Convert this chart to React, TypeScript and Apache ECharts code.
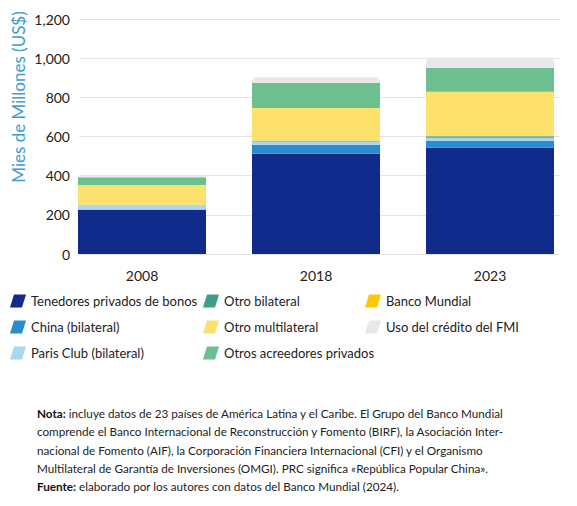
import React, { useEffect, useRef } from "react";
import * as echarts from "echarts";

const years = ["2008", "2018", "2023"];

const bonos = [225, 512, 543];
const china = [2, 46, 34];
const parisClub = [23, 17, 17];
const otroBilateral = [2, 3, 7];
const otroMultilateral = [100, 167, 228];
const bancoMundial = [0, 0, 0];
const otrosPrivados = [40, 130, 122];
const fmi = [6, 28, 52];

const yTicks = [0, 200, 400, 600, 800, 1000, 1200];

const noteLines = [
  "{b|Nota:} incluye datos de 23 países de América Latina y el Caribe. El Grupo del Banco Mundial",
  "comprende el Banco Internacional de Reconstrucción y Fomento (BIRF), la Asociación Inter-",
  "nacional de Fomento (AIF), la Corporación Financiera Internacional (CFI) y el Organismo",
  "Multilateral de Garantía de Inversiones (OMGI). PRC significa «República Popular China».",
  "{b|Fuente:} elaborado por los autores con datos del Banco Mundial (2024).",
];

const FONT = "Lato, 'Noto Sans', sans-serif";
const ICON = "path://M4,0 L16,0 L12,13 L0,13 Z";

const App: React.FC = () => {
  const chartRef = useRef<HTMLDivElement>(null);

  useEffect(() => {
    if (!chartRef.current) return;
    const chart = echarts.init(chartRef.current, undefined, { renderer: "svg" });

    const seriesDefs = [
      { name: "Tenedores privados de bonos", data: bonos, color: "#102B8B" },
      { name: "China (bilateral)", data: china, color: "#2A8CCD" },
      { name: "Paris Club (bilateral)", data: parisClub, color: "#AAD8F0" },
      { name: "Otro bilateral", data: otroBilateral, color: "#3E9E87" },
      { name: "Otro multilateral", data: otroMultilateral, color: "#FCE16C" },
      { name: "Banco Mundial", data: bancoMundial, color: "#FFC709" },
      { name: "Otros acreedores privados", data: otrosPrivados, color: "#6CBF8E" },
      { name: "Uso del crédito del FMI", data: fmi, color: "#E8E8E8" },
    ];

    const legendBase = {
      orient: "vertical" as const,
      top: 294,
      padding: 0,
      itemWidth: 16,
      itemHeight: 13,
      itemGap: 12,
      icon: ICON,
      selectedMode: false,
      textStyle: { fontFamily: FONT, fontSize: 13, color: "#222", lineHeight: 14 },
    };

    const option: echarts.EChartsOption = {
      animation: false,
      backgroundColor: "#fff",
      grid: [
        { left: 55, right: -7, top: 19, bottom: 252 },
        { left: 79, right: 17, top: 19, bottom: 252 },
      ],
      xAxis: [
        {
          type: "category",
          gridIndex: 0,
          data: years,
          axisLine: { show: false },
          axisTick: { show: false },
          axisLabel: { fontFamily: FONT, fontSize: 14, color: "#222", margin: 14 },
        },
        { type: "category", gridIndex: 1, data: years, show: false },
      ],
      yAxis: [
        { type: "value", gridIndex: 0, min: 0, max: 1200, show: false },
        {
          type: "value",
          gridIndex: 1,
          min: 0,
          max: 1200,
          interval: 200,
          axisLine: { show: false },
          axisTick: { show: false },
          splitLine: { lineStyle: { color: "#E4E4E4", width: 1 } },
          axisLabel: {
            fontFamily: FONT,
            fontSize: 14,
            color: "#222",
            margin: 9,
            formatter: (v: number) => (yTicks.includes(v) ? v.toLocaleString("en-US") : ""),
          },
        },
      ],
      legend: [
        { ...legendBase, left: 10, data: seriesDefs.slice(0, 3).map((s) => s.name) },
        { ...legendBase, left: 203, data: seriesDefs.slice(3, 5).map((s) => s.name).concat(seriesDefs[6].name) },
        { ...legendBase, left: 365, data: [seriesDefs[5].name, seriesDefs[7].name] },
      ],
      series: seriesDefs.map((s, i) => ({
        name: s.name,
        type: "bar",
        stack: "total",
        xAxisIndex: 0,
        yAxisIndex: 0,
        barWidth: 128,
        data: s.data,
        itemStyle: {
          color: s.color,
          borderRadius: i === seriesDefs.length - 1 ? [5, 5, 0, 0] : 0,
        },
      })),
      graphic: [
        {
          type: "text",
          x: 18,
          y: 97,
          rotation: Math.PI / 2,
          style: {
            text: "Mies de Millones (US$)",
            fontFamily: FONT,
            fontSize: 17,
            fill: "#3E9BD4",
            align: "center",
            verticalAlign: "middle",
          },
        },
        ...noteLines.map((line, i) => ({
          type: "text" as const,
          x: 37,
          y: 413 + i * 18.3,
          style: {
            text: line,
            fontFamily: FONT,
            fontSize: 11.7,
            fill: "#222",
            verticalAlign: "middle" as const,
            rich: {
              b: { fontFamily: FONT, fontSize: 11.7, fontWeight: "bold" as const, fill: "#111" },
            },
          },
        })),
      ],
    };

    chart.setOption(option);

    return () => {
      chart.dispose();
    };
  }, []);

  return (
    <div
      ref={chartRef}
      style={{ position: "fixed", left: 0, top: 0, width: 577, height: 506 }}
    />
  );
};

export default App;
